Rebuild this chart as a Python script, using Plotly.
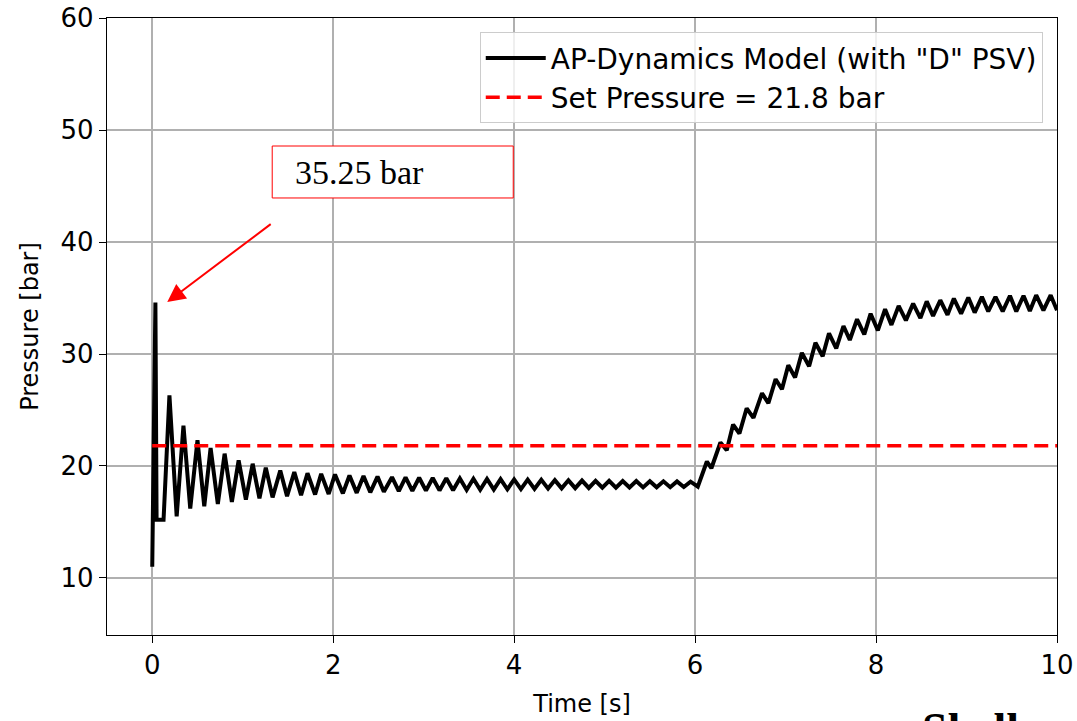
import plotly.graph_objects as go

# ---- data (extreme points of the pressure trace) ----
time_s = [
    0.0, 0.035, 0.048, 0.09, 0.125, 0.19, 0.27, 0.345, 0.42, 0.50, 0.575, 0.645, 0.725,
    0.80, 0.88, 0.955, 1.035, 1.11, 1.185, 1.255, 1.33, 1.415, 1.49, 1.57, 1.645,
    1.716, 1.80, 1.867, 1.95, 2.02, 2.107, 2.18, 2.26, 2.335, 2.41, 2.49, 2.56,
    2.65, 2.725, 2.80, 2.875, 2.95, 3.025, 3.10, 3.175, 3.25, 3.325, 3.40, 3.475,
    3.55, 3.625, 3.70, 3.775, 3.85, 3.925, 4.00, 4.075, 4.15, 4.225, 4.30, 4.375,
    4.45, 4.525, 4.60, 4.675, 4.75, 4.825, 4.90, 4.975, 5.05, 5.125, 5.20, 5.275,
    5.35, 5.425, 5.50, 5.575, 5.65, 5.725, 5.80, 5.875, 5.95, 6.03,
    6.13, 6.18, 6.28, 6.35, 6.42, 6.49, 6.57, 6.645, 6.74, 6.81, 6.89, 6.96,
    7.03, 7.105, 7.18, 7.26, 7.33, 7.41, 7.48, 7.56, 7.64, 7.71, 7.79, 7.87,
    7.94, 8.02, 8.10, 8.17, 8.25, 8.33, 8.41, 8.49, 8.56, 8.63, 8.71, 8.79,
    8.86, 8.94, 9.02, 9.09, 9.17, 9.24, 9.32, 9.40, 9.48, 9.55, 9.63, 9.70,
    9.77, 9.85, 9.93, 10.0,
]
pressure_bar = [
    11.0, 34.6, 15.2, 15.2, 15.2, 26.3, 15.5, 23.6, 16.2, 22.3, 16.4, 21.6, 16.6,
    21.1, 16.8, 20.5, 17.0, 20.2, 17.1, 19.85, 17.2, 19.6, 17.3, 19.45, 17.4,
    19.35, 17.45, 19.3, 17.5, 19.25, 17.55, 19.15, 17.6, 19.1, 17.65, 19.05, 17.7,
    19.0, 17.75, 18.98, 17.78, 18.95, 17.8, 18.93, 17.82, 18.9, 17.84, 18.88, 17.86,
    18.86, 17.88, 18.84, 17.9, 18.82, 17.92, 18.8, 17.94, 18.78, 17.96, 18.76, 17.98,
    18.74, 18.0, 18.72, 18.02, 18.7, 18.04, 18.68, 18.06, 18.67, 18.07, 18.66, 18.08,
    18.65, 18.09, 18.64, 18.1, 18.63, 18.11, 18.62, 18.12, 18.6, 18.15,
    20.4, 19.8, 22.1, 21.4, 23.7, 22.9, 25.15, 24.3, 26.5, 25.6, 27.75, 26.85,
    29.0, 27.9, 30.1, 28.9, 31.0, 29.8, 31.85, 30.5, 32.5, 31.25, 33.1, 31.75,
    33.6, 32.1, 34.0, 32.6, 34.3, 33.0, 34.5, 33.2, 34.7, 33.4, 34.8, 33.5,
    34.95, 33.6, 35.05, 33.7, 35.1, 33.8, 35.1, 33.8, 35.2, 33.8, 35.2, 33.85,
    35.25, 33.9, 35.25, 33.9,
]
set_pressure_t = [0.0, 10.0]
set_pressure_val = [21.8, 21.8]

x_ticks = [0, 2, 4, 6, 8, 10]
y_ticks = [10, 20, 30, 40, 50, 60]

series_names = ['AP-Dynamics Model (with "D" PSV)', "Set Pressure = 21.8 bar"]
peak_label = "35.25 bar"

FONT = "DejaVu Sans"
TICK_FS = 26
TITLE_FS = 24

fig = go.Figure()
fig.add_trace(go.Scatter(
    x=time_s, y=pressure_bar, mode="lines", name=series_names[0],
    line=dict(color="black", width=4),
))
fig.add_trace(go.Scatter(
    x=set_pressure_t, y=set_pressure_val, mode="lines", name=series_names[1],
    line=dict(color="red", width=3.5, dash="14px,7px"),
))

axis_common = dict(
    showline=True, mirror=True, linecolor="black", linewidth=1.3,
    showgrid=True, gridcolor="#b0b0b0", gridwidth=1.5,
    ticks="outside", ticklen=7, tickwidth=1.3, tickcolor="black",
    zeroline=False, automargin=False, ticklabeloverflow="allow",
    tickfont=dict(family=FONT, size=TICK_FS, color="black"),
)

fig.update_xaxes(range=[-0.5, 10], tickvals=x_ticks,
                 title=dict(text="Time [s]", font=dict(family=FONT, size=TITLE_FS, color="black")),
                 **axis_common)
fig.update_yaxes(range=[4.91, 60], tickvals=y_ticks,
                 title=dict(text="Pressure [bar]", font=dict(family=FONT, size=TITLE_FS, color="black")),
                 **axis_common)

# annotation box with text
fig.add_shape(type="rect", xref="x", yref="y", x0=1.326, x1=3.99, y0=43.93, y1=48.57,
              line=dict(color="red", width=1), fillcolor="white", layer="above")
fig.add_annotation(x=1.56, y=46.2, xref="x", yref="y", text=peak_label, showarrow=False,
                   xanchor="left", yanchor="middle",
                   font=dict(family="Liberation Serif", size=34, color="black"))
# arrow
fig.add_annotation(x=0.166, y=34.64, xref="x", yref="y", ax=1.326, ay=41.7,
                   axref="x", ayref="y", text="", showarrow=True,
                   arrowhead=2, arrowsize=1.8, arrowwidth=2, arrowcolor="red", standoff=0)
# cropped word at bottom right (cut off by the image edge in the reference)
fig.add_annotation(x=(920 - 107) / 950, y=-0.1086, xref="x domain", yref="paper",
                   text="<b>Shell</b>", showarrow=False, xanchor="left", yanchor="top",
                   font=dict(family="Liberation Serif", size=46, color="black"))

fig.update_layout(
    width=1077, height=721,
    margin=dict(l=107, r=20, t=18, b=86),
    paper_bgcolor="white", plot_bgcolor="white",
    showlegend=True,
    legend=dict(x=0.985, y=0.977, xanchor="right", yanchor="top",
                bgcolor="rgba(255,255,255,0.8)", bordercolor="#cccccc", borderwidth=1,
                itemwidth=60,
                font=dict(family=FONT, size=28, color="black")),
)

# remove the browser's default 8px body margin so the figure fills the window exactly
fig.write_html(
    "out.html",
    config={"displayModeBar": False},
    post_script="document.body.style.margin='0';document.body.style.overflow='hidden';",
)
